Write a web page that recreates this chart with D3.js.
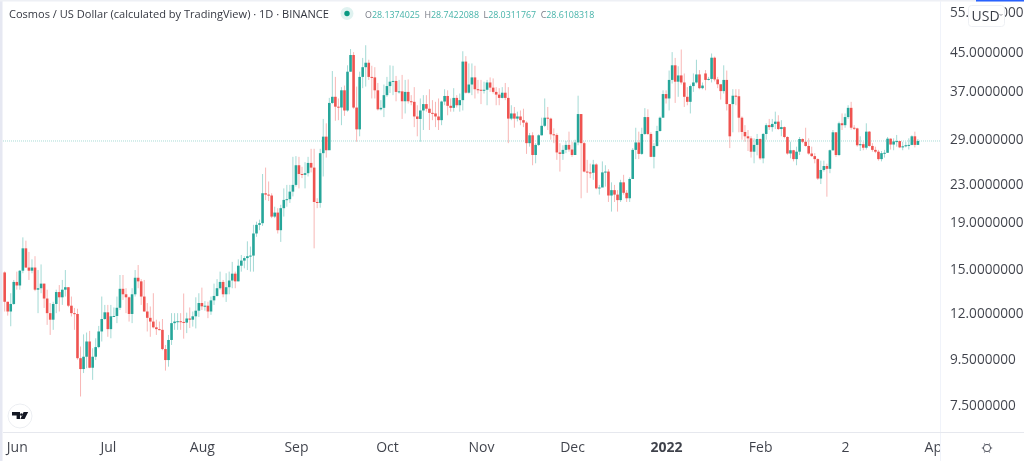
<!DOCTYPE html>
<html><head><meta charset="utf-8">
<script src="https://cdn.jsdelivr.net/npm/d3@7"></script>
<style>
html,body{margin:0;padding:0;background:#fff;overflow:hidden}
svg{display:block;font-family:"Open Sans",sans-serif;filter:blur(0.3px)}
</style></head><body>
<svg id="c" width="1024" height="461"></svg>
<script>
const firstDate = "2021-05-28";
const firstOpen = 14.69;
const closes = [
12.66,12.05,12.52,14.0,13.75,14.82,16.6,15.06,14.82,15.06,
13.46,13.56,13.88,12.87,11.95,11.56,12.52,13.3,12.95,13.46,
13.63,12.41,11.95,11.9,9.51,9.0,9.58,10.35,9.06,9.58,
10.06,10.89,11.6,12.0,11.02,11.76,11.78,12.28,13.52,13.15,
12.95,11.9,13.15,14.3,14.04,13.0,12.05,11.67,11.45,11.12,
11.02,10.98,9.96,9.42,10.43,11.36,11.45,11.47,11.43,11.39,
11.63,11.56,11.76,12.1,12.58,12.37,12.41,12.05,12.75,13.04,
13.56,14.0,13.15,13.63,14.1,14.6,14.04,15.2,15.6,15.8,
15.95,16.0,17.9,18.7,18.86,21.95,21.8,21.7,19.5,19.9,
18.2,20.35,21.22,21.3,22.13,22.9,25.3,24.2,24.1,24.3,
25.6,25.0,21.0,20.9,26.9,29.25,27.3,34.7,35.8,34.05,
33.9,37.0,33.4,40.66,44.25,33.9,30.35,39.6,41.6,42.55,
39.6,39.5,37.0,33.6,33.85,36.1,37.8,38.65,38.8,36.7,
36.8,35.0,36.7,35.0,34.9,32.4,32.0,33.4,34.5,33.7,
33.0,32.9,32.4,31.8,34.95,35.95,34.2,33.85,35.6,34.3,
35.2,42.8,36.55,38.1,39.5,37.2,37.1,37.0,37.1,38.5,
37.5,36.7,36.2,35.6,36.55,35.6,32.05,32.9,32.05,32.4,
31.8,31.4,28.3,29.45,26.65,28.05,29.45,30.9,32.2,32.05,
29.6,29.5,27.0,26.8,27.35,28.05,27.4,26.65,28.4,32.8,
28.3,24.5,24.4,24.35,25.4,22.5,22.6,24.4,24.5,21.7,
22.3,21.8,21.2,23.2,22,21.4,23.6,27.35,28.4,26.8,
29.65,32.3,29.65,26.4,27.9,30.1,32.2,36.3,35.5,39,
42,38.65,39.9,38.5,35.8,34.9,37.8,38.5,40.1,37.4,
37.9,39,39.2,43.65,39.1,38.15,36.85,39,34.5,29.3,
36,35.9,32.2,29.95,29.3,29,27.1,28.05,28.9,26.2,
29.65,31,30.7,31.2,31.56,30.4,30.7,29.2,26.85,27.3,
26.1,27.1,28.9,28.5,27.9,26.85,26.5,26.1,23.65,24.7,
25.2,24.85,27.3,29.9,26.65,31.3,31,32.3,33.85,30.6,
30.5,28,28.15,27.65,30,27.9,27.35,27.1,26.1,26.9,
26.95,28.95,28.1,28.55,28.6,27.7,27.85,28,28.05,29.3,
28.05,28.61];
const highs = [
14.77,12.66,13.22,14.14,14.75,14.87,17.55,17.26,16.3,15.7,
15.95,14.87,15.3,13.88,13.46,12.58,12.66,13.46,13.78,14.14,
14.87,13.63,13.0,12.27,12.22,10.09,10.73,10.83,10.92,10.0,
10.52,11.2,13.0,12.46,12.46,12.46,12.3,13.0,14.5,14.5,
13.56,13.0,13.56,14.87,15.25,14.2,14.14,12.58,12.36,13.22,
11.56,11.45,11.6,10.17,10.7,11.95,11.95,11.95,11.95,13.2,
11.98,12.3,12.05,12.95,13.22,13.6,12.7,12.66,13.0,13.88,
14.2,14.75,14.14,14.63,14.75,15.5,14.75,15.7,16.05,15.95,
17.2,16.75,18.7,19.0,19.2,24.2,25.0,23.3,21.95,20.5,
20.35,20.7,22.5,22.9,22.9,26.4,26.5,26.4,25.1,25.7,
26.4,27.5,27.5,21.4,27.5,32,31.3,35.6,40.8,39.6,
35.5,37.6,37.9,42,45.6,44.9,37.7,40.66,43.6,46.5,
43.2,41.9,41.6,38.4,35.2,38.1,39.6,42,41.9,39.8,
39,40,39,39.1,36.1,37.6,34.3,35.5,36.1,36.1,
37.2,35.2,34.9,35.5,35.1,37.2,37,35.5,37.4,36.1,
36.4,45.1,44,42.4,42.4,41.9,39,39,38.65,39,
39.5,39.3,37.6,37.4,37.6,38.4,37.6,34.3,34,33.2,
33.4,33.7,31.6,29.8,29.9,28.3,29.6,32.2,35.5,34,
32.2,30.5,29.75,28.3,28,28.6,30,28.5,28.8,36,
32.8,28.5,26,25.5,26,25.55,22.9,25.8,25.3,24.8,
23.2,22.9,22.3,23.5,24.1,22.3,23.8,27.6,30.6,30,
30.6,33.8,33.6,29.9,28.3,30.9,32.4,37,37,40.9,
44.9,43.6,41.8,45.5,40.3,37.6,38.1,40.3,43.2,41,
38.5,41,39.6,44.6,43.9,39.6,38.1,42,40.9,34.5,
37.2,37.2,37.2,32.4,31,30.25,29.3,29,29.65,29,
29.8,31.3,32,32,33.2,32.6,31.8,30.8,29.3,28.5,
27.35,27.8,29.2,29,30.6,29,27.8,26.9,26.2,25.9,
25.9,25.5,27.4,30.25,29.9,31.56,32.9,32.9,34.3,34.9,
31,30.6,29.3,28.5,31.3,30.1,28.3,27.8,27.35,27.2,
27.35,29.2,29,29,29.5,28.5,28.5,28.5,29,29.45,
30,28.9];
const lows = [
12.05,11.8,11.18,12.46,13.46,13.46,14.63,15.02,14.14,14.63,
13.36,11.95,13.22,12.27,11.26,10.7,10.98,11.95,12.05,12.46,
13.0,12.32,11.75,10.98,9.44,7.83,8.82,9.04,9.04,8.52,
9.42,10.0,10.35,11.55,10.6,10.52,11.72,11.36,12.14,12.78,
11.95,11.45,11.36,13.0,13.56,12.46,12.05,10.89,10.6,11.06,
10.7,10.95,9.9,8.93,9.11,10.17,10.98,10.98,10.98,10.5,
10.8,11.08,11.16,11.06,11.72,12.14,12.1,11.65,11.85,12.46,
13.0,13.46,12.95,12.65,13.15,13.56,13.56,14.04,14.75,15.0,
14.87,14.75,14.75,17.6,18.2,18.6,21.2,21.1,19.35,19.35,
17.9,17.15,19.5,20.5,20.9,21.6,22.7,22.5,23.7,22.5,
23.9,24.4,16.6,20.35,20.4,23.9,26.3,27.4,34.5,31.7,
31.8,31,32.5,33.2,40.66,33.7,28.5,29.3,37.4,37.7,
39,35.5,35.5,33.4,33.4,32.3,35.8,36.5,36.1,35,
36.4,32,32.9,34.6,34.3,30.7,29.3,28.5,30.25,33.2,
30.25,31.8,30.7,30.25,31,34.3,32.6,33.2,33.2,33.9,
33.2,33.4,36.4,36.4,36.1,35.5,36.4,34.5,36.4,34.3,
36.7,36.4,34.3,34.3,35.5,35.2,28.3,31.8,30.6,31.6,
31,30.7,26.8,27.8,25.3,25.55,27.9,29.4,30.7,30.25,
28.8,28.3,26,24.5,26,26.9,27.1,26.4,26.65,28,
21.4,24.4,22,23.7,23.5,22.4,21.8,22.7,22.7,21,
20,21,20,21,21.8,21,21,23.6,26.1,26.1,
26.65,29.5,29.5,26.35,24.9,27.8,30,32.2,34.6,33.4,
38.3,34.7,35.8,38.1,34,34.3,32.9,36.7,38.3,37.2,
37.2,37,38.9,38.5,38.7,37.4,35.3,36.4,33.4,27.6,
29.9,34.3,29.9,28.8,28.5,27.2,26.3,25.55,26.6,26,
25.55,28.8,30.25,30,30.4,30.25,29.3,29,26.7,26.2,
25.8,25.3,26.65,28.3,27.8,26.7,26.4,25.55,23.5,23,
24.5,21.57,24.3,27.2,26.4,26.5,30.25,30.6,32,30.3,
30.25,27.8,27.2,27.3,27.4,27.8,27.1,26.9,25.9,25.8,
26.3,26.95,27.4,27.3,27.8,27.6,27.3,27.7,27.4,28,
27.7,28.1];
// opens that do not equal the previous close, by candle index
const gapOpens = {231: 40.3, 240: 34.5};
const priceTicks = [55,45,37,29,23,19,15,12,9.5,7.5];
const monthTicks = ["2021-06-01","2021-07-01","2021-08-01","2021-09-01","2021-10-01","2021-11-01","2021-12-01","2022-01-01","2022-02-01","2022-03-01","2022-04-01"];
const monthLabels = ["Jun","Jul","Aug","Sep","Oct","Nov","Dec","2022","Feb","2","Apr"];
const lastPrice = 28.6108318;
const titleText = "Cosmos / US Dollar (calculated by TradingView) · 1D · BINANCE";
const ohlcLabels = [["O","28.1374025"],["H","28.7422088"],["L","28.0311767"],["C","28.6108318"]];

const UP="#26a69a", DOWN="#ef5350", TXT="#131722", PANE=940, AXY=432;
const svg=d3.select("#c");
const parse=d3.utcParse("%Y-%m-%d");
const t0=parse(firstDate);
const candles=closes.map((c,i)=>{
  const o=gapOpens[i]!==undefined?gapOpens[i]:(i?closes[i-1]:firstOpen);
  return {date:d3.utcDay.offset(t0,i),o,c,h:highs[i],l:lows[i]};
});
const lastDay=parse("2022-04-01");
const x=d3.scaleUtc().domain([t0,lastDay]).range([4.67,4.67+3.034*d3.utcDay.count(t0,lastDay)]);
const y=d3.scaleLog().domain([7.5,45]).range([405,51.7]);

const defs=svg.append("defs");
defs.append("clipPath").attr("id","xclipT").append("rect").attr("x",0).attr("y",0).attr("width",PANE).attr("height",30);

// frame
svg.append("rect").attr("x",0).attr("y",0).attr("width",2.5).attr("height",461).attr("fill","#e6e8f2");
svg.append("rect").attr("x",0).attr("y",0).attr("width",1024).attr("height",1.5).attr("fill","#eef0f5");
svg.append("rect").attr("x",976).attr("y",0).attr("width",48).attr("height",1.5).attr("fill","#2962ff");
svg.append("line").attr("x1",PANE+.5).attr("x2",PANE+.5).attr("y1",1).attr("y2",461).attr("stroke","#f0f3fa");
svg.append("line").attr("x1",3).attr("x2",1024).attr("y1",AXY+.5).attr("y2",AXY+.5).attr("stroke","#e6e8ee");

// last price line
svg.append("line").attr("x1",3).attr("x2",PANE).attr("y1",y(lastPrice)).attr("y2",y(lastPrice))
  .attr("stroke",UP).attr("stroke-opacity",.4).attr("stroke-width",1).attr("stroke-dasharray","1 1");

// candles
const g=svg.append("g");
g.selectAll("line.w").data(candles).join("line").attr("class","w")
  .attr("x1",d=>x(d.date)).attr("x2",d=>x(d.date)).attr("y1",d=>y(d.h)).attr("y2",d=>y(d.l))
  .attr("stroke",d=>d.c>=d.o?UP:DOWN).attr("stroke-opacity",.42).attr("stroke-width",1);
g.selectAll("rect.b").data(candles).join("rect").attr("class","b")
  .attr("x",d=>x(d.date)-1.3).attr("width",2.6)
  .attr("y",d=>y(Math.max(d.o,d.c))).attr("height",d=>Math.max(1,Math.abs(y(d.o)-y(d.c))))
  .attr("fill",d=>d.c>=d.o?UP:DOWN);

// x axis
const xAxis=d3.axisBottom(x).tickValues(monthTicks.map(parse)).tickSize(0).tickPadding(0)
  .tickFormat((d,i)=>monthLabels[i]);
const gx=svg.append("g").attr("transform",`translate(0,${AXY})`).attr("clip-path","url(#xclipT)").call(xAxis);
gx.select(".domain").remove();
gx.selectAll("text").attr("y",19.5).attr("dy",0).attr("font-size",14).attr("fill",TXT).attr("fill-opacity",.82)
  .attr("font-family",'"Open Sans",sans-serif').attr("font-weight",(d,i)=>monthLabels[i]==="2022"?700:400)
  .attr("dx",(d,i)=>monthLabels[i]==="Apr"?-3.5:0);

// price axis
const yAxis=d3.axisRight(y).tickValues(priceTicks).tickSize(0).tickPadding(0).tickFormat(d=>d.toFixed(7));
const gy=svg.append("g").attr("transform",`translate(950,0)`).call(yAxis);
gy.select(".domain").remove();
gy.selectAll("text").attr("x",0).attr("dy","0.35em").attr("font-size",13.6).attr("fill",TXT).attr("fill-opacity",.82)
  .attr("font-family",'"Open Sans",sans-serif');

// USD box
svg.append("rect").attr("x",968.5).attr("y",5.5).attr("width",36).attr("height",21).attr("rx",3).attr("fill","#fff").attr("stroke","#eef0f4");
svg.append("text").attr("x",971.5).attr("y",21).attr("font-size",14).attr("fill",TXT).attr("fill-opacity",.85).text("USD");
svg.append("path").attr("d","M999.5 14l1.5 1.5 1.5-1.5").attr("fill","none").attr("stroke","#787b86").attr("stroke-width",.8);

// legend
svg.append("text").attr("x",9).attr("y",18).attr("font-size",11.05).attr("fill",TXT).attr("fill-opacity",.88).text(titleText);
svg.append("circle").attr("cx",347).attr("cy",13.5).attr("r",6.5).attr("fill",UP).attr("fill-opacity",.15);
svg.append("circle").attr("cx",347).attr("cy",13.5).attr("r",2.7).attr("fill","#089981");
const legend=svg.append("text").attr("x",365).attr("y",17.5).attr("font-size",8.9);
ohlcLabels.forEach(([k,v],i)=>{
  legend.append("tspan").attr("dx",i?4.5:0).attr("fill","#787b86").text(k);
  legend.append("tspan").attr("fill",UP).attr("fill-opacity",.85).text(v);
});

// logo
const logo=svg.append("g").attr("transform","translate(20,416)");
logo.append("circle").attr("r",12).attr("fill","#fff").attr("stroke","#eceef2");
logo.append("path").attr("d","M-8 -4H0V3H-3.4V-.6H-8Z M3.6 -4H8.2L4.6 3H0.4Z M1.4 -2.8a1.3 1.3 0 1 0 .01 0").attr("fill","#131722");

// gear
const gear=svg.append("g").attr("transform","translate(987,448)").attr("fill","none").attr("stroke","#50535e").attr("stroke-width",1);
gear.append("circle").attr("r",3.6);
d3.range(6).forEach(i=>{
  const a=i*Math.PI/3;
  gear.append("line").attr("x1",3.6*Math.cos(a)).attr("y1",3.6*Math.sin(a)).attr("x2",5.2*Math.cos(a)).attr("y2",5.2*Math.sin(a));
});
</script>
</body></html>
